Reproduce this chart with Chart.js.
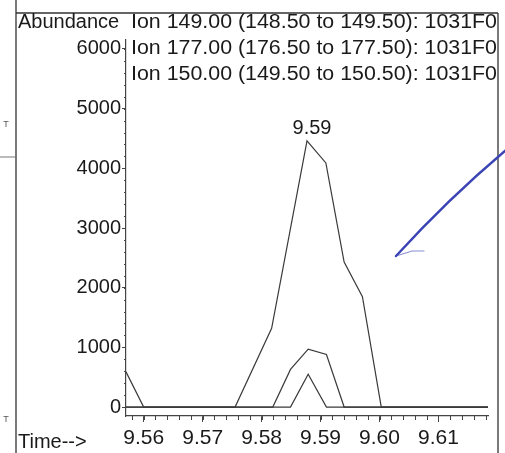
<!DOCTYPE html>
<html>
<head>
<meta charset="utf-8">
<script src="https://cdn.jsdelivr.net/npm/chart.js@4.4.1/dist/chart.umd.min.js"></script>
<style>
  html, body { margin: 0; padding: 0; background: #fff; }
  canvas { display: block; }
</style>
</head>
<body>
<canvas id="chrom" width="505" height="453"></canvas>
<script>
// tick labels
const xTicks = [9.56, 9.57, 9.58, 9.59, 9.60, 9.61];
const yTicks = [0, 1000, 2000, 3000, 4000, 5000, 6000];

// extracted ion traces (time in min, abundance)
const ionLabels = [
  'Ion 149.00 (148.50 to 149.50): 1031F0',
  'Ion 177.00 (176.50 to 177.50): 1031F0',
  'Ion 150.00 (149.50 to 150.50): 1031F0'
];
const ion149Times  = [9.5570, 9.5600, 9.5755, 9.5817, 9.5877, 9.5909, 9.5940, 9.5971, 9.6003, 9.6184];
const ion149Values = [590, 0, 0, 1320, 4460, 4090, 2430, 1850, 0, 0];
const ion177Times  = [9.5570, 9.5819, 9.5849, 9.5879, 9.5910, 9.5940, 9.6184];
const ion177Values = [0, 0, 630, 970, 880, 0, 0];
const ion150Times  = [9.5570, 9.5849, 9.5879, 9.5910, 9.6184];
const ion150Values = [0, 0, 550, 0, 0];

const FONT = "'Liberation Sans', Arial, sans-serif";
const INK = '#1a1a1a';
const LINE = '#3a3a3a';

function toPoints(times, values) {
  return times.map((t, i) => ({ x: t, y: values[i] }));
}

function traceDataset(label, times, values) {
  return {
    label: label,
    data: toPoints(times, values),
    borderColor: LINE,
    borderWidth: 1.2,
    pointRadius: 0,
    tension: 0,
    fill: false
  };
}

// frame, header text, minor ticks, peak label and the pen mark from the scan
const decorPlugin = {
  id: 'decor',
  afterDraw(chart) {
    const ctx = chart.ctx;
    const xs = chart.scales.x;
    const ys = chart.scales.y;
    const area = chart.chartArea;
    ctx.save();

    // page frame
    ctx.strokeStyle = '#333';
    ctx.lineWidth = 1.3;
    ctx.beginPath();
    ctx.moveTo(16, 0); ctx.lineTo(16, 453);
    ctx.moveTo(16, 13); ctx.lineTo(498, 13);
    ctx.moveTo(498, 13); ctx.lineTo(498, 453);
    ctx.stroke();
    ctx.strokeStyle = '#777';
    ctx.lineWidth = 1;
    ctx.beginPath();
    ctx.moveTo(0, 157); ctx.lineTo(16, 157);
    ctx.stroke();
    ctx.fillStyle = '#555';
    ctx.font = '9px ' + FONT;
    ctx.textAlign = 'center';
    ctx.textBaseline = 'alphabetic';
    ctx.fillText('T', 6, 127);
    ctx.fillText('T', 6, 422);

    // header
    ctx.fillStyle = INK;
    ctx.textAlign = 'left';
    ctx.font = '20px ' + FONT;
    ctx.fillText('Abundance', 18, 28);
    ionLabels.forEach((txt, i) => {
      const w = ctx.measureText(txt).width;
      ctx.save();
      ctx.translate(131, 28 + i * 26);
      ctx.scale(366 / w, 1);
      ctx.fillText(txt, 0, 0);
      ctx.restore();
    });
    ctx.fillText('Time-->', 18, 448);

    // minor ticks
    ctx.strokeStyle = '#444';
    ctx.lineWidth = 1;
    ctx.beginPath();
    for (let v = 9.558; v < xs.max; v += 0.002) {
      const px = Math.round(xs.getPixelForValue(v)) + 0.5;
      ctx.moveTo(px, area.bottom);
      ctx.lineTo(px, area.bottom + 4);
    }
    for (let v = 200; v <= 6000; v += 200) {
      const py = Math.round(ys.getPixelForValue(v)) + 0.5;
      ctx.moveTo(area.left, py);
      ctx.lineTo(area.left - 2, py);
    }
    ctx.stroke();

    // peak retention time label
    let pk = 0;
    ion149Values.forEach((v, i) => { if (v > ion149Values[pk]) pk = i; });
    const pkx = xs.getPixelForValue(ion149Times[pk]);
    const pky = ys.getPixelForValue(ion149Values[pk]);
    ctx.textAlign = 'center';
    ctx.fillText(ion149Times[pk].toFixed(2), pkx + 5, pky - 7);

    // blue pen stroke
    ctx.strokeStyle = '#3b44b5';
    ctx.lineWidth = 2.4;
    ctx.lineCap = 'round';
    ctx.beginPath();
    ctx.moveTo(396, 256);
    ctx.quadraticCurveTo(448, 199, 506, 150);
    ctx.stroke();
    ctx.lineWidth = 1.2;
    ctx.strokeStyle = 'rgba(59,68,181,0.6)';
    ctx.beginPath();
    ctx.moveTo(396, 256);
    ctx.lineTo(412, 251);
    ctx.lineTo(424, 251);
    ctx.stroke();

    ctx.restore();
  }
};

new Chart(document.getElementById('chrom'), {
  type: 'line',
  data: {
    datasets: [
      traceDataset(ionLabels[0], ion149Times, ion149Values),
      traceDataset(ionLabels[1], ion177Times, ion177Values),
      traceDataset(ionLabels[2], ion150Times, ion150Values)
    ]
  },
  options: {
    responsive: false,
    animation: false,
    devicePixelRatio: 1,
    layout: { padding: { left: 0, right: 17, top: 40, bottom: 0 } },
    plugins: { legend: { display: false }, tooltip: { enabled: false } },
    scales: {
      x: {
        type: 'linear',
        min: 9.5570,
        max: 9.6184,
        afterBuildTicks: (scale) => { scale.ticks = xTicks.map(v => ({ value: v })); },
        afterFit: (scale) => { scale.height = 37; },
        ticks: {
          callback: (v) => Number(v).toFixed(2),
          color: INK,
          font: { family: FONT, size: 21 },
          padding: 4,
          maxRotation: 0,
          autoSkip: false
        },
        grid: { drawOnChartArea: false, tickLength: 6, color: '#444', lineWidth: 1 },
        border: { display: true, color: '#444', width: 1.2 }
      },
      y: {
        type: 'linear',
        min: -150,
        max: 6150,
        afterBuildTicks: (scale) => { scale.ticks = yTicks.map(v => ({ value: v })); },
        afterFit: (scale) => { scale.width = 126; },
        ticks: {
          callback: (v) => String(v),
          color: INK,
          font: { family: FONT, size: 20 },
          padding: 1
        },
        grid: { drawOnChartArea: false, tickLength: 4, color: '#444', lineWidth: 1 },
        border: { display: true, color: '#444', width: 1.2 }
      }
    }
  },
  plugins: [decorPlugin]
});
</script>
</body>
</html>
